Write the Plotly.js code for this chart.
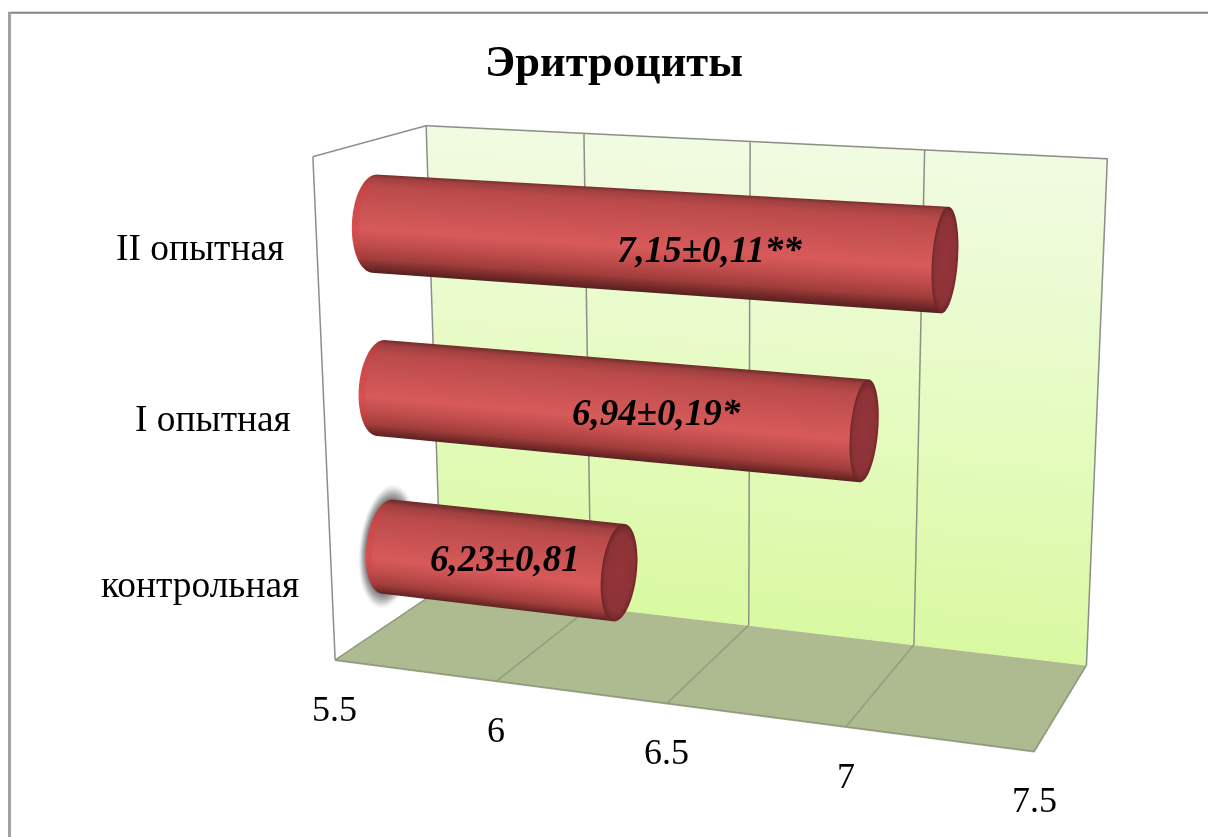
<!DOCTYPE html>
<html><head><meta charset="utf-8"><script src="https://cdn.plot.ly/plotly-3.0.1.min.js"></script>
<style>html,body{margin:0;padding:0;background:#fff;overflow:hidden}#c{position:absolute;left:-2px;top:-552px}</style></head>
<body><div id="c"></div><script>
// Erythrocyte counts by group, drawn bottom to top
const categories=['контрольная','I опытная','II опытная'];
const values=[6.23,6.94,7.15];
const valueLabels=['6,23±0,81','6,94±0,19*','7,15±0,11**'];
const axisTicks=[5.5,6,6.5,7,7.5];
const gridValues=[6,6.5,7];
const title='Эритроциты';

// Value label offsets from the middle of each cylinder, in pixels
const labelDx=[24,62,80];
const labelDy=[15,8,0];

// The figure is larger than the window so that the 45° camera has the required focal length
const figW=1452,figH=1987,figL=-2,figT=-552;
const X=v=>(v-figL)/figW, Y=v=>1-(v-figT)/figH;
const aspect={x:1,y:0.3373,z:0.7122};
const eye={x:1.0836,y:-2.976,z:0.8097};
const center={x:0.0212,y:0,z:-0.0325};
const up={x:-0.0012,y:0,z:1};
const viewElevation=0.26;

const xMin=5.5,xMax=7.5,zMax=categories.length;
const flat={ambient:1,diffuse:0,specular:0,roughness:1,fresnel:0};
const traces=[];
function surface(x,y,z,c,scale){traces.push({type:'surface',x,y,z,surfacecolor:c,cmin:0,cmax:1,colorscale:scale,showscale:false,lighting:flat,hoverinfo:'skip'})}
function line(x,y,z,color,width){traces.push({type:'scatter3d',mode:'lines',x,y,z,line:{color,width},hoverinfo:'skip',showlegend:false})}

// Back wall with its vertical gradient, and the floor
surface([[xMin,xMax],[xMin,xMax]],[[1,1],[1,1]],[[0,0],[zMax,zMax]],[[0,0],[1,1]],[[0,'#d9f9a1'],[.5,'#e6fbc2'],[1,'#f1fbe2']]);
surface([[xMin,xMax],[xMin,xMax]],[[0,0],[1,1]],[[0,0],[0,0]],[[0,0],[0,0]],[[0,'#aebb91'],[1,'#aebb91']]);

// Box edges and grid, kept a hair inside the axis ranges so they are not clipped
const edge='#8b8f87',floorEdge='#8f9a80',floorGrid='#8f9e78';
const xa=xMin+.002,xb=xMax-.002,ya=.003,yb=.996,za=.006,zb=zMax-.006;
line([xa,xa,xa],[ya,yb,yb],[zb,zb,za],edge,3);
line([xa,xb,xb],[yb,yb,yb],[zb,zb,za],edge,3);
line([xa,xa],[ya,ya],[za,zb],edge,3);
line([xa,xa,xb,xb],[yb,ya,ya,yb],[za,za,za,za],floorEdge,3);
gridValues.forEach(g=>{line([g,g],[yb,yb],[za,zb],edge,3);line([g,g],[ya,yb],[za,za],floorGrid,3)});

// Cylinders: round in space, so the data-space radii follow the box proportions
const rz=0.29,ry=rz/zMax*aspect.z/aspect.y,N=64;
const bodyScale=[[0,'#582222'],[.05,'#7a2c2a'],[.12,'#a03e3c'],[.25,'#c04c4c'],[.4,'#d85a5a'],[.5,'#d25757'],[.7,'#c45050'],[.85,'#bb4a4a'],[.95,'#a04040'],[1,'#6f2c2a']];
const collarScale=[[0,'#582222'],[.05,'#7a2c2a'],[.12,'#a83c3a'],[.25,'#c84848'],[.4,'#d85050'],[.7,'#cc4a4a'],[.85,'#c44444'],[.95,'#a83e3e'],[1,'#742c2a']];
const capScale=[[0,'#93353a'],[.8,'#8d3237'],[.93,'#7a2b2e'],[1,'#642626']];
const shadowScale=[[0,'#787878'],[.76,'#7e7e7e'],[.86,'#b4b4b4'],[.94,'#e6e6e6'],[1,'#ffffff']];
const circle=fn=>{const row=[];for(let j=0;j<=N;j++)row.push(fn(j/N*2*Math.PI));return row};
function tube(x0,x1,i,scale){
  const rows=[x0,x1];
  surface(rows.map(v=>circle(()=>v)),rows.map(()=>circle(t=>.5+ry*Math.sin(t))),rows.map(()=>circle(t=>i+.5+rz*Math.cos(t))),
    rows.map(()=>circle(t=>(Math.cos(t-viewElevation)+1)/2)),scale);
}
function disc(xv,i,rMax,scale){
  const rows=[];for(let r=0;r<=12;r++)rows.push(r/12*rMax);
  surface(rows.map(()=>circle(()=>xv)),rows.map(r=>circle(t=>.5+r*ry*Math.sin(t))),rows.map(r=>circle(t=>i+.5+r*rz*Math.cos(t))),
    rows.map(r=>circle(()=>r/rMax)),scale);
}
// Soft shadow on the side wall behind the control bar
disc(xMin+.004,0,1.32,shadowScale);
values.forEach((v,i)=>{
  tube(xMin+.002,xMin+.025,i,collarScale);
  tube(xMin+.025,v,i,bodyScale);
  disc(v,i,1,capScale);
});

// Text
const serif='"Liberation Serif","Times New Roman",serif';
const ann=[];
axisTicks.forEach(v=>ann.push({x:v,y:0,z:0,text:String(v),showarrow:false,yshift:-47.5,font:{family:serif,size:36,color:'#000'}}));
categories.forEach((c,i)=>ann.push({x:xMin,y:0,z:i+.5,text:c,showarrow:false,xanchor:'right',xshift:-30,yshift:-3.5,font:{family:serif,size:37.4,color:'#000'}}));
values.forEach((v,i)=>ann.push({x:(xMin+v)/2,y:.5-ry,z:i+.5,text:'<b><i>'+valueLabels[i]+'</i></b>',showarrow:false,xshift:labelDx[i],yshift:labelDy[i],font:{family:serif,size:37,color:'#000'}}));

const hiddenAxis={visible:false,showgrid:false,zeroline:false,showspikes:false,showbackground:false};
Plotly.newPlot('c',traces,{width:figW,height:figH,margin:{l:0,r:0,t:0,b:0},paper_bgcolor:'#fff',showlegend:false,
  title:{text:'<b>'+title+'</b>',font:{family:serif,size:44.5,color:'#000'},x:X(614),xanchor:'center',y:Y(60),yanchor:'middle'},
  shapes:[
    {type:'line',xref:'paper',yref:'paper',x0:X(8.5),x1:X(1210),y0:Y(12.7),y1:Y(12.7),line:{color:'#858585',width:2}},
    {type:'line',xref:'paper',yref:'paper',x0:X(9.5),x1:X(9.5),y0:Y(12),y1:Y(840),line:{color:'#a2a2a2',width:3}}
  ],
  scene:{domain:{x:[0,1],y:[0,1]},aspectmode:'manual',aspectratio:aspect,
    camera:{eye,center,up,projection:{type:'perspective'}},
    xaxis:{...hiddenAxis,range:[xMin,xMax]},yaxis:{...hiddenAxis,range:[0,1]},zaxis:{...hiddenAxis,range:[0,zMax]},annotations:ann}},
  {displayModeBar:false});
</script></body></html>
